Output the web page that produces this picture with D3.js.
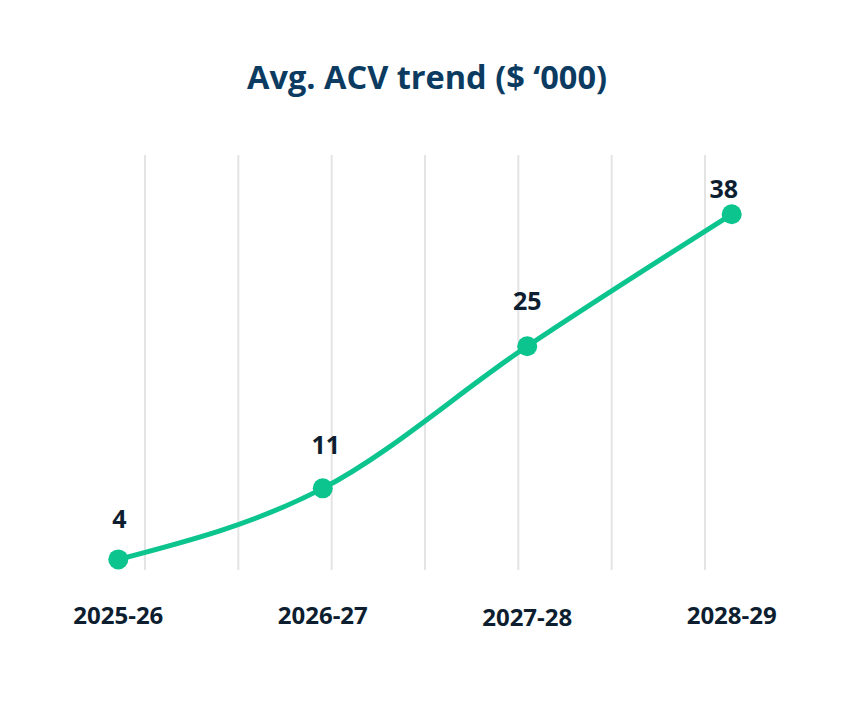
<!DOCTYPE html>
<html>
<head>
<meta charset="utf-8">
<script src="https://cdn.jsdelivr.net/npm/d3@7"></script>
<style>
  body { margin: 0; background: #fff; }
  svg text { font-family: "Open Sans", "Noto Sans", sans-serif; font-weight: 700; }
</style>
</head>
<body>
<svg width="850" height="708"></svg>
<script>
// chart values
var periods = ["2025-26", "2026-27", "2027-28", "2028-29"];
var acv = [4, 11, 25, 38];
var gridCount = 7;

var svg = d3.select("svg");

// label nudges
var labelDy = [-31, -34, -36, -16];
var labelDx = [1, 3, 0, -8];
var axisDy = [0, 0, 2, 0];

var x = d3.scalePoint()
    .domain(periods)
    .range([118.3, 731.7]);

var y = d3.scaleLinear()
    .domain([0, 40])
    .range([600, 194]);

var grid = d3.scaleLinear()
    .domain([0, gridCount - 1])
    .range([145, 705]);

// title
svg.append("text")
    .attr("x", 427)
    .attr("y", 89)
    .attr("text-anchor", "middle")
    .attr("fill", "#0c3b61")
    .style("font-size", "32.5px")
    .text("Avg. ACV trend ($ \u2018000)");

// vertical grid lines
svg.append("g")
    .selectAll("line")
    .data(d3.range(gridCount))
    .join("line")
    .attr("x1", function (d) { return grid(d); })
    .attr("x2", function (d) { return grid(d); })
    .attr("y1", 155)
    .attr("y2", 570)
    .attr("stroke", "#e4e4e4")
    .attr("stroke-width", 2);

// x axis labels
svg.append("g")
    .selectAll("text")
    .data(periods)
    .join("text")
    .attr("x", function (d) { return x(d); })
    .attr("y", function (d, i) { return 623.5 + axisDy[i]; })
    .attr("text-anchor", "middle")
    .attr("fill", "#0d1e30")
    .style("font-size", "24px")
    .text(function (d) { return d; });

var line = d3.line()
    .x(function (d, i) { return x(periods[i]); })
    .y(function (d) { return y(d); })
    .curve(d3.curveMonotoneX);

svg.append("path")
    .datum(acv)
    .attr("fill", "none")
    .attr("stroke", "#0bc48e")
    .attr("stroke-width", 5)
    .attr("stroke-linecap", "round")
    .attr("d", line);

svg.append("g")
    .selectAll("circle")
    .data(acv)
    .join("circle")
    .attr("cx", function (d, i) { return x(periods[i]); })
    .attr("cy", function (d) { return y(d); })
    .attr("r", 10)
    .attr("fill", "#0bc48e");

// value labels
svg.append("g")
    .selectAll("text")
    .data(acv)
    .join("text")
    .attr("x", function (d, i) { return x(periods[i]) + labelDx[i]; })
    .attr("y", function (d, i) { return y(d) + labelDy[i]; })
    .attr("text-anchor", "middle")
    .attr("fill", "#0d1e30")
    .style("font-size", "25px")
    .text(function (d) { return d; });
</script>
</body>
</html>
